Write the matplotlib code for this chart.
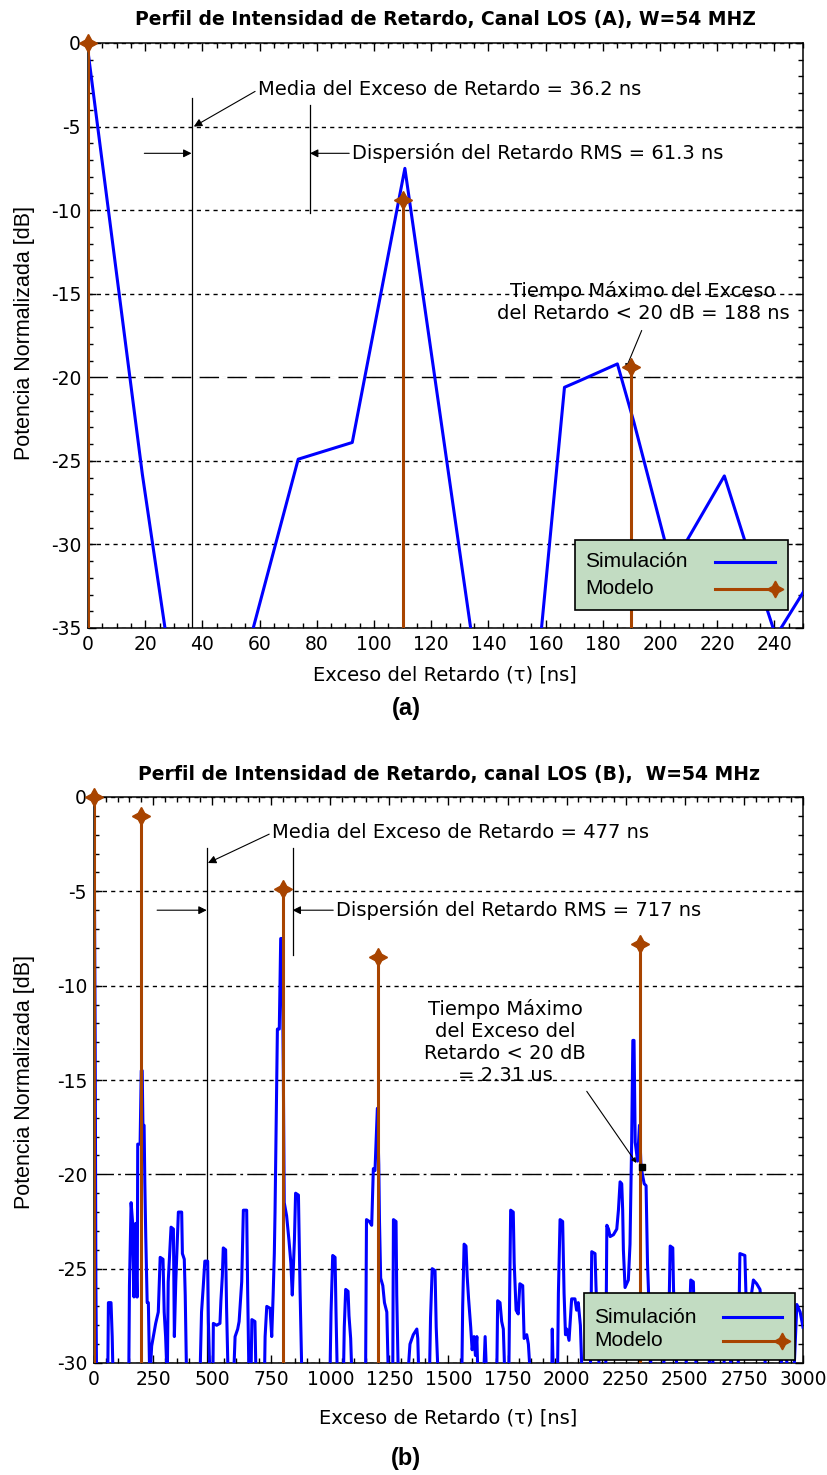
import numpy as np
import matplotlib
matplotlib.use('Agg')
import matplotlib.pyplot as plt
from matplotlib.patches import Rectangle
from matplotlib.lines import Line2D

plt.rcParams['font.family'] = ['Liberation Sans Narrow', 'DejaVu Sans']
plt.rcParams['axes.unicode_minus'] = False

## datos (a)
tau_a = [0, 19, 29.5, 53.1, 73.5, 92.4, 110.8, 136.3, 156.9, 166.6, 172, 185.1,
         190.9, 201.7, 205.5, 209.3, 222.5, 229.7, 240.5, 250.3]
sim_a = [-0.5, -25.8, -38, -38, -24.9, -23.9, -7.5, -38, -38, -20.6, -20.2, -19.2,
         -22.7, -29.8, -31, -29.8, -25.9, -29.8, -35.5, -32.8]
mod_tau_a = [0, 110, 190]
mod_pot_a = [0, -9.4, -19.4]

## datos (b)
tau_b = [0, 5, 8, 11, 58, 61, 72, 77, 81,
         147, 150, 157, 163, 169, 176, 181, 183, 185, 195, 200, 204, 207, 212, 215, 219, 225, 230, 236,
         244, 251, 261, 272, 280, 292, 297, 303, 310,
         314, 326, 336, 340, 346, 357, 371, 374, 382, 386, 392,
         448, 455, 462, 469, 481, 484, 491,
         503, 505, 519, 533, 537, 543, 547, 557, 561, 568,
         590, 597, 608, 614, 625, 632, 646, 650, 656,
         664, 668, 681, 686,
         721, 724, 731, 745, 752, 758, 763, 766, 771, 776, 784, 790, 796, 801, 805, 815, 825, 833, 839,
         848, 853, 865, 872, 880,
         998, 1003, 1010, 1020, 1024, 1030,
         1055, 1059, 1065, 1075, 1079, 1086, 1092,
         1149, 1153, 1165, 1175, 1182, 1189, 1199, 1205, 1208, 1213, 1222, 1229, 1239, 1246,
         1264, 1267, 1278, 1281, 1288,
         1326, 1337, 1351, 1366, 1370, 1375,
         1419, 1424, 1431, 1443, 1448, 1457,
         1556, 1560, 1566, 1574, 1579, 1585, 1594, 1600, 1608, 1614, 1620, 1625,
         1648, 1655, 1662,
         1704, 1708, 1718, 1725, 1732, 1739,
         1755, 1759, 1763, 1774, 1778, 1786, 1795, 1802, 1814, 1820, 1831, 1838, 1848,
         1937, 1939, 1944,
         1961, 1965, 1972, 1983, 1989, 1995, 2000, 2010, 2021, 2035, 2042, 2049, 2058, 2066,
         2100, 2106, 2120, 2124, 2130, 2140,
         2165, 2170, 2177, 2184, 2198, 2212, 2219, 2226, 2233, 2237, 2240, 2247, 2261, 2268, 2275,
         2280, 2285, 2290, 2300, 2308, 2314, 2319, 2328, 2336, 2342, 2346, 2352, 2360,
         2400, 2432, 2438, 2449, 2452, 2460, 2470, 2500, 2520, 2525, 2536, 2540, 2550,
         2600, 2610, 2625, 2660, 2680, 2700, 2725, 2730, 2733, 2754, 2759, 2770, 2790, 2804,
         2818, 2830, 2845, 2900, 2920, 2940, 2960, 2974, 2988, 3000]
sim_b = [0, -12.9, -25.8, -31, -31, -26.8, -26.8, -28.6, -31,
         -31, -25.9, -21.5, -22.5, -26.5, -22.6, -26.5, -26.5, -18.4, -18.4, -14.5, -14.5, -17.4, -17.4, -20.4, -23.3, -26.8, -26.8, -31,
         -29.1, -28.6, -27.9, -27.3, -24.4, -24.5, -27.3, -28.6, -31,
         -25.7, -22.8, -22.9, -28.6, -25.7, -22, -22, -24.2, -24.5, -26.4, -31,
         -31, -27.3, -26, -24.6, -24.6, -27.8, -31,
         -31, -27.9, -28, -27.9, -26.7, -25.4, -23.9, -24, -27.1, -31,
         -31, -28.6, -28.2, -27.8, -25.7, -21.9, -21.9, -26, -31,
         -31, -27.7, -27.8, -31,
         -31, -28.6, -27, -27.1, -28.6, -26.4, -24.2, -22, -17.1, -12.3, -12.3, -7.5, -7.5, -14.5, -21.5, -22.2, -23.5, -24.7, -26.4,
         -23.5, -21, -21.1, -26.2, -31,
         -31, -27.3, -24.3, -24.4, -27.3, -31,
         -31, -28.1, -26.1, -26.2, -27.5, -28.7, -31,
         -31, -22.4, -22.5, -22.7, -19.7, -19.8, -16.5, -19.5, -22.5, -25.5, -25.9, -26.8, -27.3, -31,
         -31, -22.4, -22.5, -26.4, -31,
         -31, -29, -28.5, -28.2, -28.7, -31,
         -31, -27.6, -25, -25.1, -28.1, -31,
         -31, -27, -23.7, -23.8, -25.4, -26.6, -28.1, -29.3, -28.6, -29.6, -28.6, -31,
         -31, -28.6, -31,
         -31, -26.7, -26.8, -27.8, -28.2, -31,
         -31, -26.1, -21.9, -22, -24.7, -27.2, -27.4, -25.8, -25.9, -28.7, -28.5, -29, -31,
         -31, -28.2, -31,
         -31, -26.3, -22.4, -22.5, -26.3, -28.5, -28.2, -28.8, -26.6, -26.6, -27.2, -26.8, -28, -31,
         -31, -24.1, -24.2, -25.9, -28, -31,
         -31, -22.7, -22.9, -23.3, -23.2, -22.9, -21.9, -20.4, -20.5, -21.9, -24, -26, -25.6, -23.7, -18.3,
         -12.9, -12.9, -18.3, -19.3, -17.4, -19.4, -19.9, -20.5, -20.6, -24.7, -26.1, -29, -31,
         -31, -28, -23.8, -23.9, -26, -29, -31, -31, -27.5, -25.6, -25.7, -27.5, -31,
         -31, -28.5, -31, -31, -27.5, -31, -31, -26.5, -24.2, -24.3, -26.5, -27.5, -25.6, -25.8,
         -26.1, -28, -31, -31, -28.5, -31, -31, -26.9, -27.3, -28.1]
mod_tau_b = [0, 200, 800, 1200, 2310]
mod_pot_b = [0, -1.0, -4.9, -8.5, -7.8]

azul = '#0000ff'
cafe = '#a84400'
verde = '#c2dcc2'
fuente_normal = ['Liberation Sans', 'DejaVu Sans']

fig = plt.figure(figsize=(8.27, 14.75), dpi=100)
W, H = 827.0, 1475.0


def ejes(l, r, t, b):
    return fig.add_axes([l / W, 1 - b / H, (r - l) / W, (b - t) / H])


def formato(ax, xmax, xmaj, xmin, ymin):
    ax.set_xlim(0, xmax)
    ax.set_ylim(ymin, 0)
    ax.set_xticks(np.arange(0, xmax + 1, xmaj))
    ax.set_xticks(np.arange(0, xmax + 1, xmin), minor=True)
    ax.set_yticks(np.arange(ymin, 1, 5))
    ax.set_yticks(np.arange(ymin, 1, 1), minor=True)
    ax.tick_params(which='both', direction='in', top=True, right=True, labelsize=13.5, width=1)
    ax.tick_params(which='major', length=6, pad=5)
    ax.tick_params(which='minor', length=3.5)
    ax.yaxis.grid(True, which='major', color='k', linestyle=(0, (3, 3)), lw=1)
    for s in ax.spines.values():
        s.set_linewidth(1.1)


def leyenda(ax, x0, x1, y0, y1, ys, ym, lx0, lx1):
    ax.add_patch(Rectangle((x0, y0), x1 - x0, y1 - y0, transform=ax.transAxes,
                           facecolor=verde, edgecolor='k', lw=1.2, zorder=10))
    ax.text(x0 + 0.014, ys, 'Simulación', transform=ax.transAxes, va='center', ha='left',
            fontsize=15, family=fuente_normal, zorder=11)
    ax.text(x0 + 0.014, ym, 'Modelo', transform=ax.transAxes, va='center', ha='left',
            fontsize=15, family=fuente_normal, zorder=11)
    ax.add_line(Line2D([lx0, lx1], [ys, ys], transform=ax.transAxes, color=azul, lw=2.2, zorder=11))
    ax.add_line(Line2D([lx0, lx1], [ym, ym], transform=ax.transAxes, color=cafe, lw=2.2, zorder=11))
    ax.add_line(Line2D([lx1], [ym], transform=ax.transAxes, color=cafe, marker=(4, 1, 0),
                       markersize=12, zorder=12))


flecha = dict(arrowstyle='-|>', color='k', lw=0.8, mutation_scale=12, shrinkA=0, shrinkB=0)

## (a)
ax1 = ejes(88, 803, 43, 628)
formato(ax1, 250, 20, 5, -35)
ax1.plot(tau_a, sim_a, color=azul, lw=2.2, zorder=3)
ax1.vlines(mod_tau_a, -35, mod_pot_a, color=cafe, lw=2.2, zorder=4)
ax1.plot(mod_tau_a, mod_pot_a, ls='none', marker=(4, 1, 0), markersize=13, color=cafe,
         zorder=5, clip_on=False)
# umbral de -20 dB (tapa la grilla debajo)
ax1.plot([0, 200], [-20, -20], color='w', lw=2, zorder=1.8)
ax1.plot([0, 200], [-20, -20], color='k', lw=1, dashes=[14, 6], zorder=2)
ax1.plot([36.2, 36.2], [-35, -3.3], color='k', lw=0.9)
ax1.plot([77.6, 77.6], [-10.2, -3.7], color='k', lw=0.9)
ax1.annotate('Media del Exceso de Retardo = 36.2 ns', xy=(37, -5), xytext=(59.4, -2.8),
             ha='left', va='center', fontsize=14,
             arrowprops=dict(flecha, relpos=(0, 0.5)))
ax1.annotate('', xy=(36.2, -6.6), xytext=(19.7, -6.6), arrowprops=flecha)
ax1.annotate('Dispersión del Retardo RMS = 61.3 ns', xy=(77.6, -6.6), xytext=(92.3, -6.6),
             ha='left', va='center', fontsize=14,
             arrowprops=dict(flecha, relpos=(0, 0.5)))
ax1.text(194, -15.5, 'Tiempo Máximo del Exceso\ndel Retardo < 20 dB = 188 ns', ha='center',
         va='center', fontsize=14, linespacing=1.15)
ax1.annotate('', xy=(188, -19.5), xytext=(193.6, -17.2),
             arrowprops=dict(flecha, mutation_scale=7))
leyenda(ax1, 0.681, 0.979, 0.031, 0.150, 0.113, 0.067, 0.877, 0.961)
ax1.set_title('Perfil de Intensidad de Retardo, Canal LOS (A), W=54 MHZ', fontsize=13.5,
              fontweight='bold', pad=13)
fig.text(445 / W, 1 - 675 / H, 'Exceso del Retardo (τ) [ns]', ha='center', va='center', fontsize=14)
fig.text(25 / W, 1 - 333 / H, 'Potencia Normalizada [dB]', ha='center', va='center',
         rotation=90, fontsize=15.5, family=fuente_normal)
fig.text(406 / W, 1 - 709 / H, '(a)', ha='center', va='center', fontsize=17,
         fontweight='bold', family=fuente_normal)

## (b)
ax2 = ejes(94, 803, 797, 1363)
formato(ax2, 3000, 250, 50, -30)
ax2.plot(tau_b, sim_b, color=azul, lw=2.2, zorder=3)
ax2.vlines(mod_tau_b, -30, mod_pot_b, color=cafe, lw=2.2, zorder=4)
ax2.plot(mod_tau_b, mod_pot_b, ls='none', marker=(4, 1, 0), markersize=13, color=cafe,
         zorder=5, clip_on=False)
ax2.plot([0, 3000], [-20, -20], color='w', lw=2, zorder=1.8)
ax2.plot([0, 3000], [-20, -20], color='k', lw=1, dashes=[14, 3, 2, 3], zorder=2)
ax2.plot([477, 477], [-30, -2.7], color='k', lw=0.9)
ax2.plot([840, 840], [-8.4, -2.7], color='k', lw=0.9)
ax2.annotate('Media del Exceso de Retardo = 477 ns', xy=(482, -3.5), xytext=(753, -1.9),
             ha='left', va='center', fontsize=14,
             arrowprops=dict(flecha, relpos=(0, 0.5)))
ax2.annotate('', xy=(477, -6.0), xytext=(267, -6.0), arrowprops=flecha)
ax2.annotate('Dispersión del Retardo RMS = 717 ns', xy=(840, -6.0), xytext=(1024, -6.0),
             ha='left', va='center', fontsize=14,
             arrowprops=dict(flecha, relpos=(0, 0.5)))
ax2.text(1739, -13.0, 'Tiempo Máximo\ndel Exceso del\nRetardo < 20 dB\n= 2.31 us', ha='center',
         va='center', fontsize=14, linespacing=1.2)
ax2.annotate('', xy=(2295, -19.4), xytext=(2085, -15.6),
             arrowprops=dict(flecha, mutation_scale=7))
ax2.plot([2320], [-19.6], ls='none', marker='s', markersize=4, color='k', zorder=6)
leyenda(ax2, 0.691, 0.989, 0.005, 0.124, 0.081, 0.039, 0.887, 0.970)
ax2.set_title('Perfil de Intensidad de Retardo, canal LOS (B),  W=54 MHz', fontsize=13.5,
              fontweight='bold', pad=12)
fig.text(448 / W, 1 - 1418 / H, 'Exceso de Retardo (τ) [ns]', ha='center', va='center', fontsize=14)
fig.text(25 / W, 1 - 1082 / H, 'Potencia Normalizada [dB]', ha='center', va='center',
         rotation=90, fontsize=15.5, family=fuente_normal)
fig.text(406 / W, 1 - 1458 / H, '(b)', ha='center', va='center', fontsize=17,
         fontweight='bold', family=fuente_normal)

fig.savefig('out.png', dpi=100)
